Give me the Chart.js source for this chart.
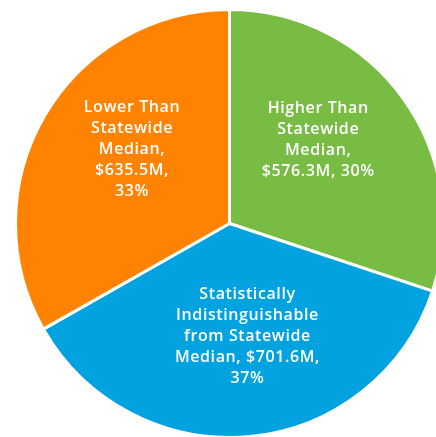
<!DOCTYPE html>
<html>
<head>
<meta charset="utf-8">
<script src="https://cdn.jsdelivr.net/npm/chart.js@4/dist/chart.umd.min.js"></script>
<style>
    html, body { margin: 0; padding: 0; background: #fff; width: 436px; height: 437px; overflow: hidden; }
    #wrap { position: absolute; left: 14px; top: 8px; width: 431px; height: 431px; }
</style>
</head>
<body>
<div id="wrap"><canvas id="pieChart"></canvas></div>
<script>
// Data
const categories = ['Higher Than Statewide Median', 'Statistically Indistinguishable from Statewide Median', 'Lower Than Statewide Median'];
const amounts = [576.3, 701.6, 635.5];      // $M
const percents = [30, 37, 33];
const sliceLabels = [
    ['Higher Than', 'Statewide', 'Median,', '$576.3M, 30%'],
    ['Statistically', 'Indistinguishable', 'from Statewide', 'Median, $701.6M,', '37%'],
    ['Lower Than', 'Statewide', 'Median,', '$635.5M,', '33%']
];
const colors = ['#78BC44', '#00A3E0', '#FF8300'];

// draws the white text inside each slice
const sliceText = {
    id: 'sliceText',
    afterDatasetsDraw(chart, args, opts) {
        const ctx = chart.ctx;
        const meta = chart.getDatasetMeta(0);
        ctx.save();
        ctx.fillStyle = '#fff';
        ctx.font = opts.font;
        ctx.letterSpacing = opts.letterSpacing;
        ctx.textAlign = 'center';
        ctx.textBaseline = 'middle';
        meta.data.forEach((arc, i) => {
            const p = arc.getProps(['x', 'y', 'startAngle', 'endAngle', 'outerRadius']);
            const mid = (p.startAngle + p.endAngle) / 2 + (opts.angleShift[i] || 0);
            const r = p.outerRadius * opts.radiusFrac[i];
            const cx = p.x + Math.cos(mid) * r;
            const cy = p.y + Math.sin(mid) * r + opts.yShift;
            const lines = sliceLabels[i];
            const top = cy - (lines.length - 1) * opts.lineHeight / 2;
            lines.forEach((line, j) => ctx.fillText(line, cx, top + j * opts.lineHeight));
        });
        ctx.restore();
    }
};

new Chart(document.getElementById('pieChart'), {
    type: 'pie',
    data: {
        labels: categories,
        datasets: [{
            data: amounts,
            backgroundColor: colors,
            borderColor: '#fff',
            borderWidth: 3
        }]
    },
    options: {
        responsive: true,
        maintainAspectRatio: false,
        animation: false,
        layout: { padding: 0 },
        plugins: {
            legend: { display: false },
            tooltip: { enabled: false },
            sliceText: {
                font: '600 16px "Open Sans"',
                letterSpacing: '0.6px',
                lineHeight: 21,
                yShift: 3,
                angleShift: [-0.15, -0.065, 0.14],
                radiusFrac: [0.58, 0.52, 0.58]
            }
        }
    },
    plugins: [sliceText]
});
</script>
</body>
</html>
